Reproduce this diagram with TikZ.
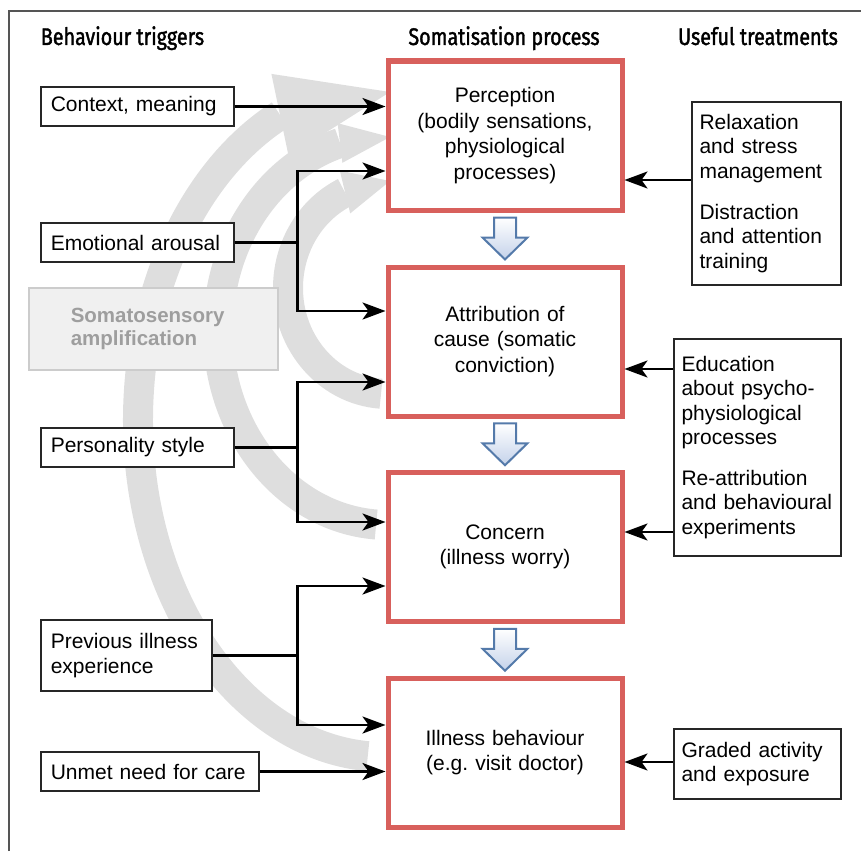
\documentclass[tikz,border=0pt]{standalone}
\usepackage{fontspec}
\setmainfont{Liberation Sans}
\newfontfamily\headfont[FakeStretch=0.82,FakeBold=1.6]{Fira Sans}
\usetikzlibrary{arrows.meta,positioning,calc}

\definecolor{boxred}{RGB}{216,96,92}
\definecolor{spiralgray}{RGB}{222,222,222}
\definecolor{arrowblue}{RGB}{84,122,170}
\definecolor{arrowfill}{RGB}{196,210,234}
\definecolor{framegray}{RGB}{85,85,85}

\tikzset{
  colhead/.style={font=\headfont\fontsize{24}{28}\selectfont, anchor=base},
  trigger/.style={draw=black!85, line width=1.5pt, fill=white, anchor=west, align=left,
    inner xsep=10pt, minimum height=39pt},
  process/.style={draw=boxred, line width=5pt, fill=white, align=center, text width=226pt,
    minimum width=234pt, minimum height=149pt, font=\fontsize{21}{25.5}\selectfont},
  treat/.style={draw=black!85, line width=1.5pt, fill=white, align=left, inner xsep=7.5pt},
  amplif/.style={draw=black!20, line width=1.5pt, fill=black!6, text=black!38, align=left,
    font=\bfseries\fontsize{20.5}{22.5}\selectfont, inner xsep=42pt},
  link/.style={line width=2.8pt},
  cure/.style={line width=2.6pt},
  spiral/.style={draw=spiralgray, line width=30pt},
  flow/.style={draw=arrowblue, line width=2pt, top color=white, bottom color=arrowfill}
}

\begin{document}
\begin{tikzpicture}[x=1pt, y=-1pt, >={Stealth[length=23pt,width=17pt,inset=6pt]},
    font=\fontsize{21}{24.5}\selectfont]
    \useasboundingbox (0,0) rectangle (861,851);
    \draw[framegray, line width=1.5pt] (9,851) -- (9,11) -- (861,11);

    \draw[spiral] (385,420) ++(94:247 and 337) arc[start angle=94, end angle=244.85, x radius=247, y radius=337];
    \fill[spiralgray] (271.4,73.9) -- (390,92) -- (288.6,156.1) -- cycle;
    \draw[spiral] (388,330) ++(94:170 and 195) arc[start angle=94, end angle=253.6, x radius=170, y radius=195];
    \fill[spiralgray] (337.6,123.2) -- (390,137) -- (342.4,162.8) -- cycle;
    \draw[spiral] (388,288) ++(94:100 and 106) arc[start angle=94, end angle=244.5, x radius=100, y radius=106];
    \fill[spiralgray] (339.8,170.6) -- (390,181) -- (350.2,213.4) -- cycle;

    \node[colhead] at (122.5,45) {Behaviour triggers};
    \node[colhead] at (504,45) {Somatisation process};
    \node[colhead] at (758,45) {Useful treatments};

    \node[process] (p1) at (505,135.5) {Perception\\(bodily sensations,\\physiological\\processes)};
    \node[process] (p2) at (505,341.5) {Attribution of\\cause (somatic\\conviction)};
    \node[process] (p3) at (505,547) {Concern\\(illness worry)};
    \node[process] (p4) at (505,752.5) {Illness behaviour\\(e.g.\ visit doctor)};

    \node[trigger, text width=173pt] (t1) at (40,106.5) {Context, meaning};
    \node[trigger, text width=173pt] (t2) at (40,242.5) {Emotional arousal};
    \node[amplif, anchor=north west, text width=165pt, minimum height=82pt] (amp) at (28,287) {Somatosensory\\amplification};
    \node[trigger, text width=173pt] (t3) at (40,447.5) {Personality style};
    \node[trigger, text width=151pt, minimum height=71pt] (t4) at (40,655.5) {Previous illness\\experience};
    \node[trigger, text width=198pt] (t5) at (40,771.5) {Unmet need for care};

    \node[treat, text width=134pt, minimum height=183pt] (c1) at (766.5,193.5)
        {Relaxation\\and stress\\management\\[16.5pt]Distraction\\and attention\\training};
    \node[treat, text width=152pt, minimum height=217pt] (c2) at (757.5,447.5)
        {Education\\about psycho-\\physiological\\processes\\[16pt]Re-attribution\\and behavioural\\experiments};
    \node[treat, text width=152pt, minimum height=70pt] (c3) at (757.5,764)
        {Graded activity\\and exposure};

    \foreach \a/\b in {p1/p2,p2/p3,p3/p4}
        \draw[flow] ($(\a.south)!0.5!(\b.north)$) ++(-11,-21) -- ++(22,0) -- ++(0,20) -- ++(11.5,0)
            -- ++(-22.5,22) -- ++(-22.5,-22) -- ++(11.5,0) -- cycle;

    \draw[link,->] (t1) -- (t1 -| p1.west);
    \draw[link] (t2.east) -- ++(63,0) coordinate (j1);
    \draw[link,->] (j1) |- ([yshift=-35.5pt]p1.west);
    \draw[link,->] (j1) |- ([yshift=30.5pt]p2.west);
    \draw[link] (t3.east) -- ++(63,0) coordinate (j2);
    \draw[link,->] (j2) |- ([yshift=-40.5pt]p2.west);
    \draw[link,->] (j2) |- ([yshift=25pt]p3.west);
    \draw[link] (t4.east) -- ++(85,0) coordinate (j3);
    \draw[link,->] (j3) |- ([yshift=-39pt]p3.west);
    \draw[link,->] (j3) |- ([yshift=27.5pt]p4.west);
    \draw[link,->] (t5) -- (t5 -| p4.west);

    \coordinate (k1) at ([yshift=13.5pt]c1.west);
    \coordinate (k2) at ([yshift=78.5pt]c2.west);
    \coordinate (k3) at ([yshift=-84.5pt]c2.west);
    \coordinate (k4) at ([yshift=2pt]c3.west);
    \draw[cure,->] (k1) -- (k1 -| p1.east);
    \draw[cure,->] (k2) -- (k2 -| p2.east);
    \draw[cure,->] (k3) -- (k3 -| p3.east);
    \draw[cure,->] (k4) -- (k4 -| p4.east);
\end{tikzpicture}
\end{document}
